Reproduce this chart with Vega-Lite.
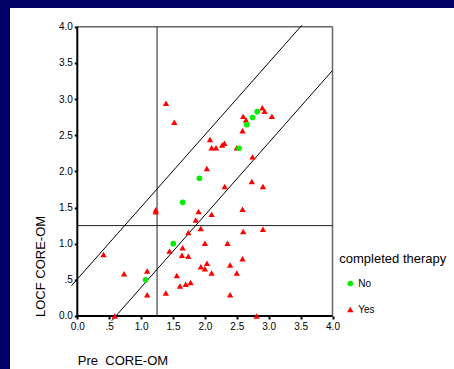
{
  "$schema": "https://vega.github.io/schema/vega-lite/v6.json",
  "autosize": {"type": "none"},
  "padding": {"left": 10, "top": 8, "right": 0, "bottom": 0},
  "width": 444,
  "height": 361,
  "background": "#000066",
  "config": {
    "view": {"fill": "white", "stroke": null},
    "font": "Liberation Sans"
  },
  "encoding": {
    "x": {
      "field": "x", "type": "quantitative",
      "scale": {"domain": [-1.0549, 5.9044], "nice": false, "zero": false},
      "axis": {
        "title": "Pre\u00a0 CORE-OM",
        "values": [0, 0.5, 1, 1.5, 2, 2.5, 3, 3.5, 4],
        "labelExpr": "datum.value == 0.5 ? '.5' : format(datum.value, '.1f')",
        "offset": -53,
        "domain": false, "grid": false,
        "tickSize": 3, "tickWidth": 2, "tickColor": "#000",
        "labelFont": "Liberation Sans", "labelFontSize": 10, "labelColor": "#000", "labelPadding": 2,
        "labelFlush": false, "labelOverlap": false, "labelBound": false,
        "titleFont": "Liberation Sans", "titleFontSize": 13, "titleFontWeight": "normal", "titleColor": "#000",
        "titleX": 67.3, "titleY": 44, "titleAlign": "left", "titleBaseline": "middle"
      }
    },
    "y": {
      "field": "y", "type": "quantitative",
      "scale": {"domain": [-0.7328, 4.2585], "nice": false, "zero": false},
      "axis": {
        "title": "LOCF CORE-OM",
        "values": [0, 0.5, 1, 1.5, 2, 2.5, 3, 3.5, 4],
        "labelExpr": "datum.value == 0.5 ? '.5' : format(datum.value, '.1f')",
        "offset": -67.3,
        "domain": false, "grid": false,
        "tickSize": 3, "tickWidth": 2, "tickColor": "#000",
        "labelFont": "Liberation Sans", "labelFontSize": 10, "labelColor": "#000", "labelPadding": 2,
        "labelFlush": false, "labelOverlap": false, "labelBound": false,
        "titleFont": "Liberation Sans", "titleFontSize": 13, "titleFontWeight": "normal", "titleColor": "#000",
        "titleX": -37.3, "titleY": 308.5, "titleAngle": 270, "titleAlign": "left", "titleBaseline": "middle"
      }
    }
  },
  "layer": [
    {
      "data": {"values": [
        {"x": 0, "y": 4, "x2": 4, "y2": 4},
        {"x": 4, "y": 0, "x2": 4, "y2": 4}
      ]},
      "mark": {"type": "rule", "color": "#666666", "strokeWidth": 1.5},
      "encoding": {"x2": {"field": "x2"}, "y2": {"field": "y2"}}
    },
    {
      "data": {"values": [
        {"x": 1.25, "y": 0, "x2": 1.25, "y2": 4},
        {"x": 0, "y": 1.25, "x2": 4, "y2": 1.25}
      ]},
      "mark": {"type": "rule", "color": "#222222", "strokeWidth": 1},
      "encoding": {"x2": {"field": "x2"}, "y2": {"field": "y2"}}
    },
    {
      "data": {"values": [
        {"x": -0.09, "y": 0.42, "x2": 3.52, "y2": 4.02},
        {"x": 0.54, "y": -0.065, "x2": 4.0, "y2": 3.395}
      ]},
      "mark": {"type": "rule", "color": "#000000", "strokeWidth": 1},
      "encoding": {"x2": {"field": "x2"}, "y2": {"field": "y2"}}
    },
    {
      "data": {"values": [
        {"x": 0, "y": 0, "x2": 0, "y2": 4},
        {"x": 0, "y": 0, "x2": 4, "y2": 0}
      ]},
      "mark": {"type": "rule", "color": "#000000", "strokeWidth": 2},
      "encoding": {"x2": {"field": "x2"}, "y2": {"field": "y2"}}
    },
    {
      "data": {"values": [
        {"x": 1.39, "y": 2.94, "completed": "Yes"},
        {"x": 1.52, "y": 2.68, "completed": "Yes"},
        {"x": 2.60, "y": 2.76, "completed": "Yes"},
        {"x": 2.645, "y": 2.71, "completed": "Yes"},
        {"x": 2.90, "y": 2.88, "completed": "Yes"},
        {"x": 2.935, "y": 2.83, "completed": "Yes"},
        {"x": 3.05, "y": 2.76, "completed": "Yes"},
        {"x": 2.59, "y": 2.56, "completed": "Yes"},
        {"x": 2.08, "y": 2.44, "completed": "Yes"},
        {"x": 2.105, "y": 2.325, "completed": "Yes"},
        {"x": 2.175, "y": 2.325, "completed": "Yes"},
        {"x": 2.27, "y": 2.365, "completed": "Yes"},
        {"x": 2.305, "y": 2.39, "completed": "Yes"},
        {"x": 2.50, "y": 2.325, "completed": "Yes"},
        {"x": 2.745, "y": 2.20, "completed": "Yes"},
        {"x": 2.03, "y": 2.04, "completed": "Yes"},
        {"x": 2.31, "y": 1.79, "completed": "Yes"},
        {"x": 2.735, "y": 1.86, "completed": "Yes"},
        {"x": 2.91, "y": 1.79, "completed": "Yes"},
        {"x": 1.23, "y": 1.47, "completed": "Yes"},
        {"x": 1.23, "y": 1.44, "completed": "Yes"},
        {"x": 1.90, "y": 1.445, "completed": "Yes"},
        {"x": 2.105, "y": 1.405, "completed": "Yes"},
        {"x": 2.59, "y": 1.475, "completed": "Yes"},
        {"x": 1.857, "y": 1.328, "completed": "Yes"},
        {"x": 1.935, "y": 1.21, "completed": "Yes"},
        {"x": 1.741, "y": 1.153, "completed": "Yes"},
        {"x": 2.60, "y": 1.167, "completed": "Yes"},
        {"x": 2.91, "y": 1.20, "completed": "Yes"},
        {"x": 2.00, "y": 1.005, "completed": "Yes"},
        {"x": 2.355, "y": 1.005, "completed": "Yes"},
        {"x": 1.445, "y": 0.897, "completed": "Yes"},
        {"x": 1.65, "y": 0.945, "completed": "Yes"},
        {"x": 1.64, "y": 0.84, "completed": "Yes"},
        {"x": 1.74, "y": 0.825, "completed": "Yes"},
        {"x": 2.59, "y": 0.79, "completed": "Yes"},
        {"x": 0.41, "y": 0.85, "completed": "Yes"},
        {"x": 0.733, "y": 0.585, "completed": "Yes"},
        {"x": 1.095, "y": 0.622, "completed": "Yes"},
        {"x": 1.095, "y": 0.295, "completed": "Yes"},
        {"x": 1.388, "y": 0.318, "completed": "Yes"},
        {"x": 1.56, "y": 0.56, "completed": "Yes"},
        {"x": 1.61, "y": 0.415, "completed": "Yes"},
        {"x": 1.70, "y": 0.44, "completed": "Yes"},
        {"x": 1.775, "y": 0.463, "completed": "Yes"},
        {"x": 1.937, "y": 0.68, "completed": "Yes"},
        {"x": 2.0, "y": 0.652, "completed": "Yes"},
        {"x": 2.032, "y": 0.728, "completed": "Yes"},
        {"x": 2.105, "y": 0.595, "completed": "Yes"},
        {"x": 2.395, "y": 0.705, "completed": "Yes"},
        {"x": 2.50, "y": 0.595, "completed": "Yes"},
        {"x": 2.395, "y": 0.293, "completed": "Yes"},
        {"x": 0.586, "y": 0.0, "completed": "Yes"},
        {"x": 2.81, "y": 0.0, "completed": "Yes"},
        {"x": 1.07, "y": 0.50, "completed": "No"},
        {"x": 1.505, "y": 1.0, "completed": "No"},
        {"x": 1.652, "y": 1.572, "completed": "No"},
        {"x": 1.914, "y": 1.904, "completed": "No"},
        {"x": 2.536, "y": 2.32, "completed": "No"},
        {"x": 2.658, "y": 2.646, "completed": "No"},
        {"x": 2.748, "y": 2.745, "completed": "No"},
        {"x": 2.82, "y": 2.825, "completed": "No"}
      ]},
      "mark": {"type": "point", "filled": true, "opacity": 1},
      "encoding": {
        "size": {
          "field": "completed", "type": "nominal",
          "scale": {"domain": ["No", "Yes"], "range": [32, 40]},
          "legend": null
        },
        "color": {
          "field": "completed", "type": "nominal",
          "scale": {"domain": ["No", "Yes"], "range": ["#00ee00", "#ff0000"]},
          "legend": {
            "orient": "none", "legendX": 329.3, "legendY": 244.5,
            "title": "completed therapy",
            "titleFont": "Liberation Sans", "titleFontSize": 13, "titleFontWeight": "normal", "titleColor": "#000",
            "titlePadding": 13,
            "labelFont": "Liberation Sans", "labelFontSize": 10, "labelColor": "#000",
            "symbolSize": 34, "symbolOffset": 6, "labelOffset": 3, "rowPadding": 16, "padding": 0
          }
        },
        "shape": {
          "field": "completed", "type": "nominal",
          "scale": {"domain": ["No", "Yes"], "range": ["circle", "triangle-up"]},
          "legend": {
            "orient": "none", "legendX": 329.3, "legendY": 244.5,
            "title": "completed therapy",
            "titleFont": "Liberation Sans", "titleFontSize": 13, "titleFontWeight": "normal", "titleColor": "#000",
            "titlePadding": 13,
            "labelFont": "Liberation Sans", "labelFontSize": 10, "labelColor": "#000",
            "symbolSize": 34, "symbolOffset": 6, "labelOffset": 3, "rowPadding": 16, "padding": 0
          }
        }
      }
    }
  ]
}
